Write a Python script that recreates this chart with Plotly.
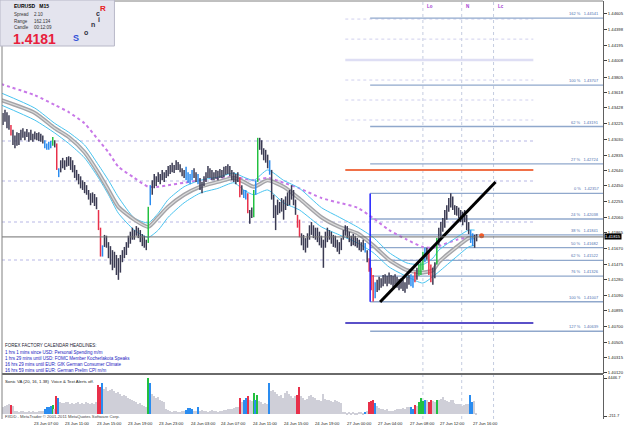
import plotly.graph_objects as go

# ---------------- data (EURUSD M15) ----------------
highs = [
    1.4336, 1.4340, 1.4337, 1.4333, 1.4321, 1.4315, 1.4308, 1.4312, 1.4311, 1.4315,
    1.4317, 1.4313, 1.4316, 1.4312, 1.4315, 1.4310, 1.4313, 1.4311, 1.4312, 1.4310,
    1.4308, 1.4302, 1.4298, 1.4300, 1.4301, 1.4306, 1.4302, 1.4298, 1.4267, 1.4277,
    1.4280, 1.4277, 1.4281, 1.4282, 1.4281, 1.4277, 1.4271, 1.4265, 1.4260, 1.4257,
    1.4252, 1.4250, 1.4246, 1.4240, 1.4236, 1.4237, 1.4235, 1.4231, 1.4215, 1.4193,
    1.4171, 1.4184, 1.4183, 1.4175, 1.4170, 1.4165, 1.4163, 1.4159, 1.4155, 1.4159,
    1.4165, 1.4169, 1.4175, 1.4183, 1.4188, 1.4193, 1.4190, 1.4195, 1.4193, 1.4190,
    1.4185, 1.4183, 1.4178, 1.4219, 1.4246, 1.4252, 1.4260, 1.4257, 1.4262, 1.4260,
    1.4265, 1.4262, 1.4265, 1.4270, 1.4271, 1.4274, 1.4271, 1.4277, 1.4275, 1.4272,
    1.4267, 1.4265, 1.4269, 1.4262, 1.4260, 1.4265, 1.4267, 1.4262, 1.4260, 1.4255,
    1.4250, 1.4257, 1.4262, 1.4270, 1.4267, 1.4265, 1.4262, 1.4265, 1.4264, 1.4266,
    1.4265, 1.4269, 1.4270, 1.4272, 1.4270, 1.4265, 1.4262, 1.4260, 1.4262, 1.4256,
    1.4246, 1.4240, 1.4240, 1.4236, 1.4215, 1.4218, 1.4240, 1.4252, 1.4305, 1.4305,
    1.4302, 1.4292, 1.4290, 1.4284, 1.4277, 1.4265, 1.4234, 1.4221, 1.4228, 1.4225,
    1.4230, 1.4228, 1.4232, 1.4237, 1.4240, 1.4246, 1.4240, 1.4228, 1.4209, 1.4203,
    1.4186, 1.4184, 1.4180, 1.4186, 1.4196, 1.4200, 1.4196, 1.4193, 1.4193, 1.4188,
    1.4183, 1.4178, 1.4188, 1.4193, 1.4190, 1.4188, 1.4184, 1.4183, 1.4178, 1.4175,
    1.4180, 1.4190, 1.4196, 1.4195, 1.4188, 1.4183, 1.4185, 1.4183, 1.4180, 1.4178,
    1.4175, 1.4178, 1.4174, 1.4165, 1.4155, 1.4143, 1.4134, 1.4125, 1.4128, 1.4132,
    1.4130, 1.4134, 1.4135, 1.4133, 1.4137, 1.4134, 1.4133, 1.4135, 1.4132, 1.4129,
    1.4130, 1.4128, 1.4125, 1.4132, 1.4134, 1.4135, 1.4133, 1.4138, 1.4143, 1.4147,
    1.4150, 1.4163, 1.4168, 1.4168, 1.4163, 1.4147, 1.4143, 1.4150, 1.4180, 1.4193,
    1.4200, 1.4205, 1.4215, 1.4221, 1.4230, 1.4236, 1.4232, 1.4221, 1.4220, 1.4218,
    1.4215, 1.4213, 1.4215, 1.4209, 1.4200, 1.4190, 1.4186, 1.4184, 1.4185,
]
lows = [
    1.4321, 1.4325, 1.4317, 1.4315, 1.4308, 1.4296, 1.4292, 1.4295, 1.4296, 1.4302,
    1.4305, 1.4302, 1.4306, 1.4300, 1.4302, 1.4300, 1.4303, 1.4302, 1.4301, 1.4300,
    1.4298, 1.4292, 1.4290, 1.4290, 1.4292, 1.4295, 1.4293, 1.4265, 1.4256, 1.4262,
    1.4267, 1.4265, 1.4269, 1.4270, 1.4265, 1.4262, 1.4255, 1.4252, 1.4247, 1.4242,
    1.4240, 1.4236, 1.4234, 1.4228, 1.4221, 1.4224, 1.4220, 1.4216, 1.4190, 1.4157,
    1.4157, 1.4169, 1.4168, 1.4155, 1.4147, 1.4140, 1.4143, 1.4134, 1.4128, 1.4137,
    1.4150, 1.4155, 1.4159, 1.4168, 1.4173, 1.4178, 1.4178, 1.4183, 1.4180, 1.4175,
    1.4170, 1.4168, 1.4165, 1.4174, 1.4221, 1.4234, 1.4242, 1.4245, 1.4250, 1.4247,
    1.4252, 1.4250, 1.4255, 1.4257, 1.4260, 1.4262, 1.4261, 1.4265, 1.4265, 1.4262,
    1.4257, 1.4255, 1.4252, 1.4249, 1.4247, 1.4252, 1.4255, 1.4250, 1.4247, 1.4240,
    1.4236, 1.4245, 1.4250, 1.4255, 1.4255, 1.4252, 1.4252, 1.4254, 1.4252, 1.4255,
    1.4255, 1.4256, 1.4259, 1.4260, 1.4257, 1.4252, 1.4250, 1.4247, 1.4250, 1.4231,
    1.4234, 1.4230, 1.4228, 1.4211, 1.4198, 1.4205, 1.4206, 1.4234, 1.4250, 1.4290,
    1.4284, 1.4277, 1.4274, 1.4267, 1.4259, 1.4228, 1.4205, 1.4190, 1.4209, 1.4211,
    1.4213, 1.4203, 1.4215, 1.4220, 1.4221, 1.4228, 1.4221, 1.4209, 1.4193, 1.4181,
    1.4171, 1.4165, 1.4162, 1.4168, 1.4178, 1.4184, 1.4180, 1.4178, 1.4175, 1.4171,
    1.4168, 1.4143, 1.4168, 1.4175, 1.4178, 1.4173, 1.4169, 1.4168, 1.4163, 1.4160,
    1.4165, 1.4178, 1.4183, 1.4180, 1.4175, 1.4170, 1.4171, 1.4170, 1.4168, 1.4165,
    1.4163, 1.4165, 1.4162, 1.4150, 1.4138, 1.4115, 1.4101, 1.4105, 1.4113, 1.4115,
    1.4118, 1.4120, 1.4123, 1.4120, 1.4123, 1.4122, 1.4119, 1.4122, 1.4118, 1.4115,
    1.4117, 1.4114, 1.4112, 1.4117, 1.4122, 1.4120, 1.4118, 1.4125, 1.4128, 1.4133,
    1.4134, 1.4140, 1.4150, 1.4153, 1.4134, 1.4125, 1.4122, 1.4130, 1.4147, 1.4171,
    1.4180, 1.4188, 1.4193, 1.4203, 1.4213, 1.4218, 1.4215, 1.4209, 1.4208, 1.4205,
    1.4200, 1.4196, 1.4200, 1.4190, 1.4185, 1.4174, 1.4170, 1.4168, 1.4176,
]
volume = [
    900, 1000, 1100, 1200, 1150, 1000, 400, 350, 300, 450,
    350, 300, 250, 400, 300, 350, 250, 300, 400, 350,
    450, 700, 850, 900, 1000, 1140, 600, 2240, 2000, 1500,
    1400, 1350, 1450, 1500, 1300, 1400, 1250, 1350, 1500, 1200,
    1400, 1300, 1450, 1350, 1250, 1400, 1300, 1500, 3600, 3340,
    3830, 3100, 3300, 2900, 3000, 3100, 2800, 2600, 2700, 2500,
    2300, 2400, 2200, 2000, 1900, 1700, 1600, 1500, 1300, 1400,
    1100, 1000, 900, 4400, 3800, 2500, 2200, 2000, 2100, 1800,
    1600, 1500, 700, 500, 400, 300, 450, 350, 300, 250,
    400, 350, 500, 800, 750, 700, 400, 350, 850, 400,
    500, 350, 450, 300, 400, 500, 450, 350, 300, 400,
    450, 500, 550, 600, 650, 700, 750, 850, 900, 1950,
    1500, 1750, 2000, 2240, 1700, 1600, 2600, 1800, 2350, 1600,
    1500, 1300, 1400, 1200, 3800, 2900, 3000, 2700, 2500, 2300,
    2400, 2000, 2600, 2800, 2500, 2200, 2000, 2300, 2400, 3300,
    2200, 2000, 1800, 1900, 2300, 2400, 2100, 2000, 1700, 1800,
    1600, 2500, 1900, 1800, 1700, 1600, 1500, 1800, 1600, 1500,
    1400, 300, 250, 200, 300, 200, 250, 150, 200, 300,
    250, 200, 250, 400, 1500, 1600, 1750, 1400, 1000, 800,
    700, 600, 500, 600, 400, 450, 350, 500, 600, 700,
    650, 800, 700, 900, 850, 900, 700, 1150, 1000, 1500,
    2000, 1600, 1800, 1700, 1500, 1700, 1600, 1500, 1700, 1700,
    1900, 2100, 1800, 1600, 1500, 1700, 1800, 1400, 1300, 1300,
    1200, 1000, 1100, 1200, 1300, 2400, 1500, 1600, 200,
]
# Sonic VA bar classification (bar index -> r=red, b=blue, g=green)
bar_class = {4: 'r', 21: 'b', 22: 'b', 23: 'b', 24: 'b', 25: 'g', 27: 'r', 28: 'b',
             48: 'r', 49: 'r', 50: 'b', 73: 'g', 74: 'b', 92: 'b', 93: 'b', 94: 'b',
             95: 'b', 98: 'b', 119: 'r', 121: 'b', 122: 'b', 123: 'r', 126: 'g',
             127: 'b', 128: 'g', 134: 'b', 148: 'r', 149: 'r', 182: 'b', 184: 'r',
             185: 'r', 186: 'r', 187: 'b', 205: 'b', 206: 'b', 207: 'r', 209: 'g',
             210: 'g', 211: 'g', 212: 'b', 214: 'r', 215: 'r', 218: 'g', 235: 'b',
             236: 'b'}

# moving averages sampled at bar indices
ma_bar = [-1, 16, 26, 33, 41, 48, 53, 58, 66, 73, 78, 83, 91, 99, 108, 116, 121,
          126, 133, 141, 149, 160, 169, 178, 186, 194, 203, 211, 216, 219, 228, 234, 237]
ma_mid = [1.4352, 1.4336, 1.4317, 1.4306, 1.4287, 1.4261, 1.4240, 1.4219, 1.4203, 1.4194,
          1.4206, 1.4219, 1.4234, 1.4244, 1.4250, 1.4255, 1.4250, 1.4244, 1.4252, 1.4244,
          1.4229, 1.4206, 1.4194, 1.4186, 1.4171, 1.4153, 1.4140, 1.4137, 1.4140, 1.4150,
          1.4169, 1.4180, 1.4181]
ma_up = [1.4361, 1.4342, 1.4323, 1.4312, 1.4296, 1.4271, 1.4252, 1.4231, 1.4205, 1.4199,
         1.4211, 1.4228, 1.4244, 1.4252, 1.4256, 1.4261, 1.4256, 1.4252, 1.4265, 1.4252,
         1.4242, 1.4218, 1.4206, 1.4194, 1.4181, 1.4162, 1.4149, 1.4147, 1.4155, 1.4165,
         1.4181, 1.4190, 1.4190]
ma_dn = [1.4346, 1.4327, 1.4311, 1.4298, 1.4280, 1.4255, 1.4234, 1.4211, 1.4190, 1.4181,
         1.4190, 1.4206, 1.4224, 1.4236, 1.4242, 1.4249, 1.4240, 1.4234, 1.4240, 1.4224,
         1.4215, 1.4194, 1.4184, 1.4174, 1.4162, 1.4144, 1.4132, 1.4124, 1.4132, 1.4138,
         1.4157, 1.4169, 1.4171]
ma_slow = [1.4372, 1.4358, 1.4346, 1.4337, 1.4323, 1.4302, 1.4287, 1.4269, 1.4255, 1.4244,
           1.4244, 1.4246, 1.4249, 1.4252, 1.4255, 1.4256, 1.4254, 1.4252, 1.4255, 1.4249,
           1.4242, 1.4230, 1.4224, 1.4218, 1.4205, 1.4190, 1.4178, 1.4169, 1.4168, 1.4170,
           1.4178, 1.4181, 1.4183]

price_ticks = [1.44605, 1.44398, 1.44195, 1.44008, 1.43805, 1.43618, 1.43428, 1.43225,
               1.43030, 1.42835, 1.42640, 1.42450, 1.42255, 1.42060, 1.41865, 1.41670,
               1.41475, 1.41280, 1.41090, 1.40895, 1.40700, 1.40505, 1.40315, 1.40120]
current_price = 1.41815

fib_names = ["162 %", "100 %", "62 %", "27 %", "0 %", "24 %", "38 %", "50 %",
             "62 %", "76 %", "100 %", "127 %"]
fib_prices = [1.44541, 1.43707, 1.43191, 1.42724, 1.42357, 1.42038, 1.41841,
              1.41682, 1.41522, 1.41326, 1.41007, 1.40639]
fib_start_bar = 184.5

pivot_top = [1.44530, 1.44280, 1.44019, 1.43770, 1.43521, 1.43272]
pivot_full = [1.43010, 1.42511, 1.42001, 1.41528]
orange_level = 1.42649
slate_level = 1.40742
zone_bars = [172, 266.5]
trend_bars = [189.5, 247.5]
trend_prices = [1.41004, 1.42499]
session_bars = [211, 230.5, 246.5]
session_names = ["Lo", "N", "Lc"]

time_labels = ["22 Jun 2011", "23 Jun 07:00", "23 Jun 11:00", "23 Jun 15:00", "23 Jun 19:00",
               "23 Jun 23:00", "24 Jun 03:00", "24 Jun 07:00", "24 Jun 11:00", "24 Jun 15:00",
               "24 Jun 19:00", "27 Jun 00:00", "27 Jun 04:00", "27 Jun 08:00", "27 Jun 12:00",
               "27 Jun 16:00"]
time_label_bar = [-1, 14.5, 30, 46, 62, 77.5, 93.5, 108.5, 124.5, 140, 156, 172, 187.5,
                  203.5, 218.5, 235]

headlines = ["1 hrs 1 mins since USD: Personal Spending m/m",
             "1 hrs 29 mins until USD: FOMC Member Kocherlakota Speaks",
             "16 hrs 29 mins until EUR: GfK German Consumer Climate",
             "16 hrs 59 mins until EUR: German Prelim CPI m/m"]

# ---------------- figure ----------------
W, H = 625, 429
ML, MR, MT, MB = 2, 19, 1, 10
PW, PH = W - ML - MR, H - MT - MB


def px(xp):
    return (xp - ML) / PW


def py(yp):
    return (H - MB - yp) / PH


FONT = "Liberation Sans, Arial, sans-serif"
colors = {'k': '#3a3a52', 'r': '#e8304a', 'b': '#2a8cf0', 'g': '#22c040'}

fig = go.Figure()

# MA lines
fig.add_trace(go.Scatter(x=ma_bar, y=ma_slow, mode='lines', line=dict(color='#c878e8', width=2, dash='dot', shape='spline', smoothing=0.6), hoverinfo='skip'))
fig.add_trace(go.Scatter(x=ma_bar, y=ma_up, mode='lines', line=dict(color='#48c4f0', width=1, shape='spline', smoothing=0.6), hoverinfo='skip'))
fig.add_trace(go.Scatter(x=ma_bar, y=ma_dn, mode='lines', line=dict(color='#48c4f0', width=1, shape='spline', smoothing=0.6), hoverinfo='skip'))
fig.add_trace(go.Scatter(x=ma_bar, y=ma_mid, mode='lines', line=dict(color='#a4a4a8', width=4, shape='spline', smoothing=0.6), hoverinfo='skip'))
fig.add_trace(go.Scatter(x=ma_bar, y=ma_mid, mode='lines', line=dict(color='#dcdcdc', width=1.2, shape='spline', smoothing=0.6), hoverinfo='skip'))

# candles as high-low bars
groups = {c: ([], []) for c in colors}
for i, (h, l) in enumerate(zip(highs, lows)):
    c = bar_class.get(i, 'k')
    groups[c][0].extend([i, i, None])
    groups[c][1].extend([l, h, None])
for c, (xs, ys) in groups.items():
    fig.add_trace(go.Scatter(x=xs, y=ys, mode='lines', line=dict(color=colors[c], width=1.5), hoverinfo='skip'))

# trend line
fig.add_trace(go.Scatter(x=trend_bars, y=trend_prices, mode='lines', line=dict(color='black', width=3), hoverinfo='skip'))
# price dot
fig.add_trace(go.Scatter(x=[240.5], y=[current_price + 0.00015], mode='markers', marker=dict(color='#f05a28', size=5), hoverinfo='skip'))

# volume panel
vcol = ['#cfcfd8' if bar_class.get(i, 'k') == 'k' else colors[bar_class[i]] for i in range(len(volume))]
fig.add_trace(go.Bar(x=list(range(len(volume))), y=volume, marker=dict(color=vcol, line=dict(width=0)), width=0.75, yaxis='y2', hoverinfo='skip'))

shapes = []
# pivots / dotted levels
for p in pivot_top:
    w = 2.5 if abs(p - 1.44019) < 1e-6 else 1
    col = '#dedef4' if w > 1 else '#d0d0ee'
    shapes.append(dict(type='line', xref='x', yref='y', x0=zone_bars[0], x1=zone_bars[1], y0=p, y1=p,
                       line=dict(color=col, width=w, dash='solid' if w > 1 else 'dot'), layer='below'))
for p in pivot_full:
    shapes.append(dict(type='line', xref='x', yref='y', x0=-0.5, x1=zone_bars[1], y0=p, y1=p,
                       line=dict(color='#d0d0ee', width=1.5, dash='dot'), layer='below'))
# session verticals
for b in session_bars:
    shapes.append(dict(type='line', xref='x', yref='paper', x0=b, x1=b, y0=0, y1=1,
                       line=dict(color='#c4cce0', width=1, dash='dot'), layer='below'))
# fib lines
for p in fib_prices:
    shapes.append(dict(type='line', xref='x', yref='y', x0=fib_start_bar, x1=301.5, y0=p, y1=p,
                       line=dict(color='#90a8cc', width=1.3), layer='below'))
shapes.append(dict(type='line', xref='x', yref='y', x0=fib_start_bar, x1=fib_start_bar,
                   y0=fib_prices[10], y1=fib_prices[4], line=dict(color='#1e1eff', width=1.5)))
# zone lines
shapes.append(dict(type='line', xref='x', yref='y', x0=zone_bars[0], x1=zone_bars[1], y0=orange_level, y1=orange_level,
                   line=dict(color='#f07048', width=2)))
shapes.append(dict(type='line', xref='x', yref='y', x0=zone_bars[0], x1=zone_bars[1], y0=slate_level, y1=slate_level,
                   line=dict(color='#5a50c8', width=2)))
# current price line
shapes.append(dict(type='line', xref='paper', yref='y', x0=0, x1=1, y0=current_price, y1=current_price,
                   line=dict(color='#707070', width=1)))
# frame
shapes.append(dict(type='line', xref='paper', yref='paper', x0=0, x1=1, y0=py(374), y1=py(374),
                   line=dict(color='#6a6a6a', width=2)))
shapes.append(dict(type='line', xref='paper', yref='paper', x0=0, x1=0, y0=0, y1=1,
                   line=dict(color='#808080', width=1)))
shapes.append(dict(type='line', xref='paper', yref='paper', x0=0, x1=1, y0=1, y1=1,
                   line=dict(color='#808080', width=1)))
# info box
shapes.append(dict(type='rect', xref='paper', yref='paper', x0=px(0), x1=px(115), y0=py(46), y1=py(0),
                   fillcolor='#e4e4ee', line=dict(color='#b8b8c8', width=1)))

ann = []
def text(x, y, s, size=4.5, color='black', bold=False, anchor='left', yanchor='middle', xref='paper', yref='paper', bg=None):
    d = dict(x=x, y=y, xref=xref, yref=yref, text=('<b>%s</b>' % s) if bold else s, showarrow=False,
             xanchor=anchor, yanchor=yanchor, font=dict(family=FONT, size=size, color=color))
    if bg:
        d['bgcolor'] = bg
        d['borderpad'] = 0
    ann.append(d)

# info box texts
text(px(12), py(6), "EURUSD &nbsp;&nbsp;M15", size=5, bold=True)
text(px(12), py(15), "Spread", size=4.5, color='#333')
text(px(32), py(15), "2.10", size=4.5, color='#333')
text(px(12), py(21.5), "Range", size=4.5, color='#333')
text(px(32), py(21.5), "162.134", size=4.5, color='#333')
text(px(12), py(28), "Candle", size=4.5, color='#333')
text(px(32), py(28), "00:12:09", size=4.5, color='#333')
text(px(11), py(38.5), "1.4181", size=14, color='#e8203c', bold=True)
text(px(76), py(38), "S", size=9, color='#3050d8', bold=True, anchor='center')
text(px(86), py(32), "o", size=7, color='#303040', bold=True, anchor='center')
text(px(93), py(25), "n", size=7, color='#303040', bold=True, anchor='center')
text(px(99), py(19), "i", size=7, color='#303040', bold=True, anchor='center')
text(px(98), py(14), "c", size=7, color='#303040', bold=True, anchor='center')
text(px(104), py(8), "R", size=8, color='#e82020', bold=True, anchor='center')

# session labels
for b, s in zip(session_bars, session_names):
    text(b + 1, py(6), s, size=4.5, color='#a040d0', bold=True, xref='x')

# fib labels
for n, p in zip(fib_names, fib_prices):
    text(px(604), p, "%s &nbsp;&nbsp;%.5f" % (n, p), size=4, color='#5070b0', anchor='right', yanchor='bottom', yref='y')

# current price box
text(1.0 + 1 / PW, current_price, "%.5f" % current_price, size=4.2, color='white', xref='paper', yref='y', bg='black')

# headlines
text(px(3), py(345), "FOREX FACTORY CALENDAR HEADLINES:", size=4.5, color='#202030')
for k, s in enumerate(headlines):
    text(px(3), py(352 + 6 * k), s, size=4.5, color='#2020c0')
text(px(3), py(381), "Sonic VA (20, 16, 1.38) &nbsp;Voice &amp; Text Alerts off.", size=4.3, color='#202020')
text(px(3), py(416), "FXDD - MetaTrader © 2001-2011 MetaQuotes Software Corp.", size=4.2, color='#404040')

# time axis labels
for b, s in zip(time_label_bar, time_labels):
    text(b, py(424), s, size=4.2, color='#202020', xref='x')

fig.update_layout(
    width=W, height=H, margin=dict(l=ML, r=MR, t=MT, b=MB),
    paper_bgcolor='white', plot_bgcolor='white', showlegend=False,
    shapes=shapes, annotations=ann, bargap=0,
    xaxis=dict(range=[-0.5, 301.5], showgrid=False, zeroline=False, showticklabels=False,
               showline=True, linecolor='#606060', linewidth=1, ticks=''),
    yaxis=dict(domain=[py(373), 1], range=[1.40119, 1.44755], side='right', showgrid=False, zeroline=False,
               tickvals=price_ticks, ticktext=['%.5f' % v for v in price_ticks],
               tickfont=dict(family=FONT, size=4.2, color='#202020'), ticks='outside', ticklen=3,
               tickcolor='#404040', showline=True, linecolor='#606060', linewidth=1),
    yaxis2=dict(domain=[0, py(375)], range=[-579.5, 4814.5], side='right', showgrid=False, zeroline=False,
                tickvals=[4446.7, -211.7], ticktext=['4446.7', '-211.7'],
                tickfont=dict(family=FONT, size=4.2, color='#202020'), ticks='outside', ticklen=3,
                tickcolor='#404040', showline=True, linecolor='#606060', linewidth=1, anchor='x'),
)
fig.write_html("out.html")
